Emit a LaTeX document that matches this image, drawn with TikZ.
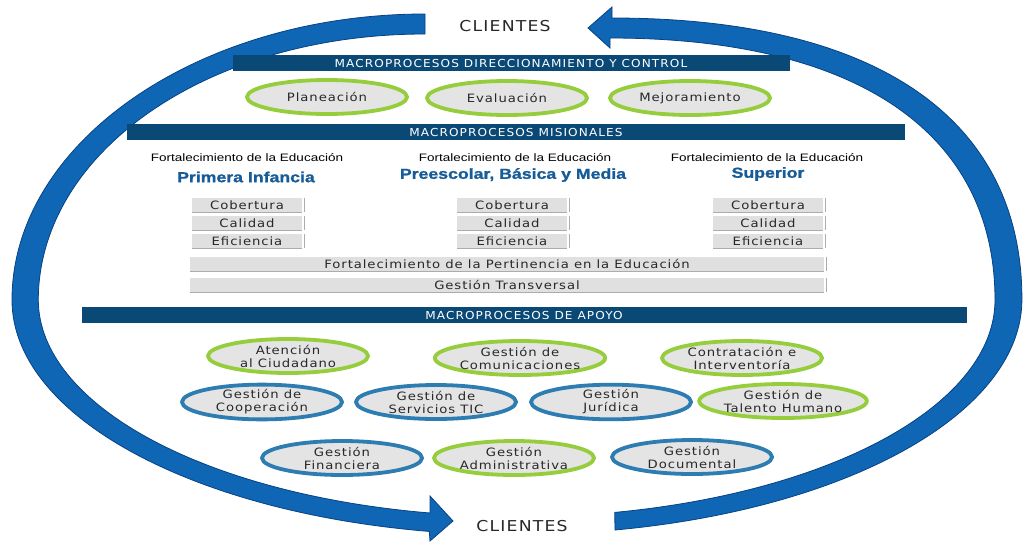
\documentclass[tikz,border=0pt]{standalone}
\usepackage{fontspec}
\usepackage{tikz}
\usetikzlibrary{shapes.geometric}
\setmainfont{DejaVu Sans}
\newfontfamily\verdana[FakeStretch=1.15,LetterSpace=8]{DejaVu Sans}
\newfontfamily\bannerfont[FakeStretch=1.1,LetterSpace=10]{DejaVu Sans}
\newfontfamily\arial[FakeStretch=1.25]{Liberation Sans}
\newfontfamily\arialheavy[FakeStretch=1.22,FakeBold=1.2]{Liberation Sans Bold}
\definecolor{navy}{RGB}{10,72,118}
\definecolor{ringblue}{RGB}{14,102,180}
\definecolor{ringedge}{RGB}{8,66,132}
\definecolor{procgray}{RGB}{228,228,228}
\definecolor{tabgray}{RGB}{224,224,224}
\definecolor{greenline}{RGB}{150,205,60}
\definecolor{blueline}{RGB}{45,125,178}
\definecolor{headblue}{RGB}{22,92,152}
\definecolor{textgray}{RGB}{40,40,40}
\tikzset{
  banner/.style={fill=navy, text=white, inner sep=0pt, minimum height=16pt,
    font=\bannerfont\fontsize{11}{12}\selectfont},
  proc/.style={ellipse, line width=3.8pt, fill=procgray, minimum width=160pt,
    minimum height=34pt, inner sep=0pt, align=center, text=textgray,
    font=\verdana\fontsize{11.5}{13}\selectfont},
  greenproc/.style={proc, draw=greenline},
  blueproc/.style={proc, draw=blueline},
  tab/.style={fill=tabgray, minimum width=110pt, minimum height=14pt, inner sep=0pt,
    text=textgray, font=\verdana\fontsize{11.5}{13}\selectfont},
  tabshade/.style={draw=gray!65, line width=1.2pt},
  header/.style={inner sep=0pt, font=\arial\fontsize{10.8}{12}\selectfont},
  title/.style={inner sep=0pt, text=headblue, font=\arialheavy\fontsize{14.5}{16}\selectfont},
  clientes/.style={inner sep=0pt, text=textgray, font=\verdana\fontsize{15}{16}\selectfont}
}
\begin{document}
\begin{tikzpicture}[x=1pt,y=-1pt]
\useasboundingbox[fill=white] (0,0) rectangle (1025,541);

% ring of clients
\fill[ringblue, draw=ringedge, line width=0.8pt]
  (425,14) .. controls (198,14) and (12,143) .. (12,300)
  arc[start angle=180, end angle=100, x radius=505, y radius=235]
  -- (430,541) -- (453,521) -- (430,496) -- (430,513)
  arc[start angle=100.4, end angle=180, x radius=478, y radius=217]
  .. controls (39,152) and (208,34) .. (425,34) -- cycle;
\fill[ringblue, draw=ringedge, line width=0.8pt]
  (615,530) arc[start angle=78.8, end angle=0, x radius=505, y radius=235]
  .. controls (1022,120) and (879,18) .. (612,18)
  -- (612,7) -- (588,28) -- (610,48) -- (610,38)
  .. controls (856,38) and (995,132) .. (995,300)
  arc[start angle=0, end angle=78.2, x radius=478, y radius=217] -- cycle;
\node (clientestop) [clientes] at (505,26) {CLIENTES};
\node (clientesbottom) [clientes] at (522,526) {CLIENTES};

% direccionamiento y control
\node (direccion) [banner, minimum width=557pt] at (511,63) {MACROPROCESOS DIRECCIONAMIENTO Y CONTROL};
\node (planeacion) [greenproc] at (327,97) {Planeación};
\node (evaluacion) [greenproc] at (507,98) {Evaluación};
\node (mejoramiento) [greenproc] at (690,98) {Mejoramiento};

% misionales
\node (misionales) [banner, minimum width=778pt] at (516,132) {MACROPROCESOS MISIONALES};
\node (headA) [header] at (247,158) {Fortalecimiento de la Educación};
\node (headB) [header] at (515,158) {Fortalecimiento de la Educación};
\node (headC) [header] at (767,158) {Fortalecimiento de la Educación};
\node (titleA) [title] at (246,177) {Primera Infancia};
\node (titleB) [title] at (513,175) {Preescolar, Básica y Media};
\node (titleC) [title] at (768,174) {Superior};
\foreach \col/\cx in {a/247,b/512,c/768}{
  \foreach \name/\cy in {Cobertura/205,Calidad/223,Eficiencia/241}{
    \node (\col\name) [tab] at (\cx,\cy) {\name};
    \draw[tabshade] (\col\name.south west) -- (\col\name.south east);
    \draw[tabshade] ([xshift=2.5pt]\col\name.north east) -- ([xshift=2.5pt]\col\name.south east);
  }
}
\node (pertinencia) [tab, minimum width=634pt] at (507,264) {Fortalecimiento de la Pertinencia en la Educación};
\node (transversal) [tab, minimum width=634pt] at (507,285) {Gestión Transversal};
\foreach \bar in {pertinencia,transversal}{
  \draw[tabshade] (\bar.south west) -- (\bar.south east);
  \draw[tabshade] ([xshift=2.5pt]\bar.north east) -- ([xshift=2.5pt]\bar.south east);
}

% apoyo
\node (apoyo) [banner, minimum width=885pt] at (524,315) {MACROPROCESOS DE APOYO};
\node (atencion) [greenproc] at (288,356) {Atención\\al Ciudadano};
\node (comunicaciones) [greenproc] at (520,358) {Gestión de\\Comunicaciones};
\node (contratacion) [greenproc] at (742,358) {Contratación e\\Interventoría};
\node (cooperacion) [blueproc] at (262,402) {Gestión de\\Cooperación};
\node (tic) [blueproc] at (436,402) {Gestión de\\Servicios TIC};
\node (juridica) [blueproc] at (611,402) {Gestión\\Jurídica};
\node (talento) [greenproc] at (783,401) {Gestión de\\Talento Humano};
\node (financiera) [blueproc] at (342,458) {Gestión\\Financiera};
\node (administrativa) [greenproc] at (514,458) {Gestión\\Administrativa};
\node (documental) [blueproc] at (692,457) {Gestión\\Documental};
\end{tikzpicture}
\end{document}
